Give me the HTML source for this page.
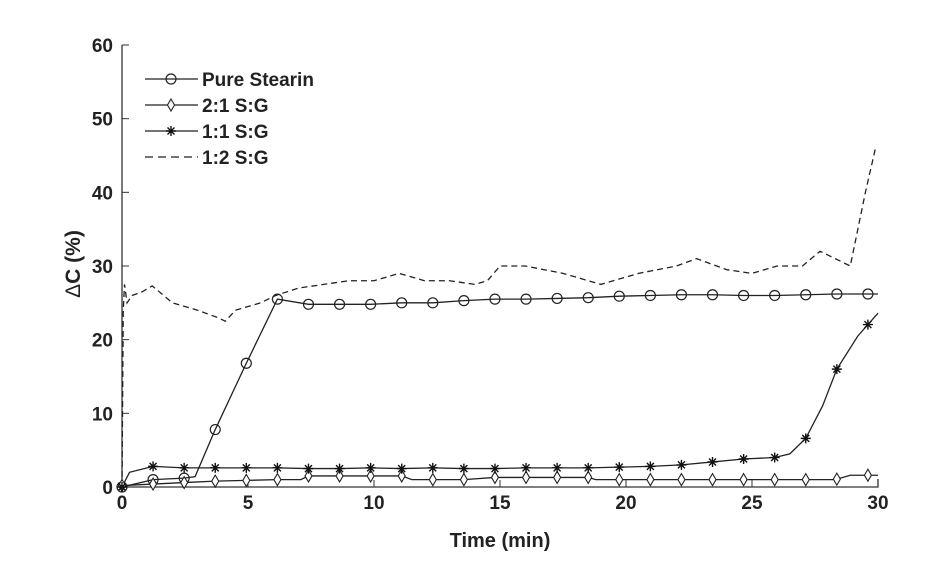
<!DOCTYPE html>
<html><head><meta charset="utf-8"><style>
body{margin:0;background:#fff}
svg text{font-family:"Liberation Sans",Arial,sans-serif;font-weight:bold;fill:#222}
</style></head><body>
<svg id="chart" width="927" height="578" xmlns="http://www.w3.org/2000/svg">
<g id="axes"></g>
<g id="series"></g>
<g id="legend"></g>
<text x="500" y="547" text-anchor="middle" font-size="20">Time (min)</text>
<text transform="translate(80,264) rotate(-90)" text-anchor="middle" font-size="21"><tspan font-weight="normal">Δ</tspan>C (%)</text>
</svg>
<script>
const xTicks=[0,5,10,15,20,25,30];
const yTicks=[0,10,20,30,40,50,60];
const markerT=[0,1.233,2.467,3.7,4.933,6.167,7.4,8.633,9.867,11.1,12.333,13.567,14.8,16.033,17.267,18.5,19.733,20.967,22.2,23.433,24.667,25.9,27.133,28.367,29.6];
const stearinT=[0,1.233,2.467,2.9,3.7,4.933,6.167,7.4,8.633,9.867,11.1,12.333,13.567,14.8,16.033,17.267,18.5,19.733,20.967,22.2,23.433,24.667,25.9,27.133,28.367,29.6,30];
const stearinV=[0,1,1.2,1.4,7.8,16.8,25.5,24.8,24.8,24.8,25,25,25.3,25.5,25.5,25.6,25.7,25.9,26,26.1,26.1,26,26,26.1,26.2,26.2,26.2];
const s11T=[0,0.3,1.233,2.467,3.7,4.933,6.167,7.4,8.633,9.867,11.1,12.333,13.567,14.8,16.033,17.267,18.5,19.733,20.967,22.2,23.433,24.667,25.9,26.5,27.133,27.8,28.367,29.2,30];
const s11V=[0,2,2.8,2.6,2.6,2.6,2.6,2.5,2.5,2.6,2.5,2.6,2.5,2.5,2.6,2.6,2.6,2.7,2.8,3.0,3.4,3.8,4.0,4.5,6.6,11,16,20.5,23.6];
const s21T=[0,1.233,2.467,3.7,4.933,6.167,7.1,7.4,8.633,9.867,11.1,11.5,12.333,13.567,14.8,16.033,17.267,18.5,18.8,19.733,20.967,22.2,23.433,24.667,25.9,27.133,28.3,28.9,30];
const s21V=[0.2,0.4,0.6,0.8,0.9,1.0,1.0,1.5,1.5,1.5,1.5,1.0,1.0,1.0,1.3,1.3,1.3,1.3,1.0,1.0,1.0,1.0,1.0,1.0,1.0,1.0,1.0,1.6,1.6];
const s12T=[0,0.05,0.1,0.2,0.4,0.8,1.2,2,3,3.8,4.1,4.5,5.5,6.1,7,8,9,10,11,12,13,14,14.5,15,16,17.5,18.5,19,20.5,22,22.8,24,25,26,27,27.7,28.3,28.9,29.5,29.9];
const s12V=[0,24,27.5,25,26,26.5,27.3,25,24,23,22.5,24,25,26,27,27.5,28,28,29,28,28,27.5,28,30,30,29,28,27.5,29,30,31,29.5,29,30,30,32,31,30,40,46];
const legendLabels=["Pure Stearin","2:1 S:G","1:1 S:G","1:2 S:G"];
const X0=122,X1=878,Y0=487,Y1=45;
const sx=t=>X0+(t-0)/30*(X1-X0), sy=v=>Y0-v/60*(Y0-Y1);
const NS="http://www.w3.org/2000/svg";
function mk(tag,attrs,parent){const e=document.createElementNS(NS,tag);for(const k in attrs)e.setAttribute(k,attrs[k]);parent.appendChild(e);return e;}
const ax=document.getElementById('axes'),sr=document.getElementById('series'),lg=document.getElementById('legend');
let e=mk('path',{d:`M${X0},${Y1}V${Y0}H${X1}V${Y0-8}`,fill:'none',stroke:'#333','stroke-width':1.3},ax);


xTicks.forEach(t=>{const l=mk('line',{x1:sx(t),x2:sx(t),y1:Y0,y2:Y0-7,stroke:'#333'},ax);


const tx=mk('text',{x:sx(t),y:Y0+22,'text-anchor':'middle','font-size':19},ax);tx.textContent=t;

});
yTicks.forEach(v=>{const l=mk('line',{x1:X0,x2:X0+7,y1:sy(v),y2:sy(v),stroke:'#333'},ax);


const tx=mk('text',{x:X0-9,y:sy(v)+7,'text-anchor':'end','font-size':19},ax);tx.textContent=v;

});
function interp(T,V,t){for(let i=1;i<T.length;i++){if(t<=T[i]){const f=(t-T[i-1])/(T[i]-T[i-1]||1);return V[i-1]+f*(V[i]-V[i-1]);}}return V[V.length-1];}
function line(T,V,name,dash){const p=mk('polyline',{points:T.map((t,i)=>sx(t)+','+sy(V[i])).join(' '),fill:'none',stroke:'#222','stroke-width':1.3,'stroke-dasharray':dash||'none'},sr);

}
function marker(type,x,y,parent){let m;
if(type==='o')m=mk('circle',{cx:x,cy:y,r:5,fill:'none',stroke:'#222','stroke-width':1.2},parent);
else if(type==='d')m=mk('path',{d:`M${x},${y-6}L${x+3.5},${y}L${x},${y+6}L${x-3.5},${y}Z`,fill:'#fff',stroke:'#222','stroke-width':1.1},parent);
else m=mk('path',{d:`M${x-5},${y}H${x+5}M${x},${y-5}V${y+5}M${x-3.5},${y-3.5}L${x+3.5},${y+3.5}M${x-3.5},${y+3.5}L${x+3.5},${y-3.5}`,stroke:'#111','stroke-width':1.4},parent);

}
line(s12T,s12V,'series-1-2','6,4');
line(stearinT,stearinV,'series-pure-stearin');
line(s21T,s21V,'series-2-1');
line(s11T,s11V,'series-1-1');
markerT.forEach(t=>{marker('o',sx(t),sy(interp(stearinT,stearinV,t)),sr);marker('d',sx(t),sy(interp(s21T,s21V,t)),sr);marker('*',sx(t),sy(interp(s11T,s11V,t)),sr);});
const types=['o','d','*',''];
legendLabels.forEach((lab,i)=>{const y=79+i*26;
const l=mk('line',{x1:145,x2:198,y1:y,y2:y,stroke:'#222','stroke-width':1.3,'stroke-dasharray':i===3?'8,5':'none'},lg);


if(types[i])marker(types[i],171,y,lg);
const tx=mk('text',{x:202,y:y+7,'font-size':19},lg);tx.textContent=lab;

});
</script>
</body></html>
